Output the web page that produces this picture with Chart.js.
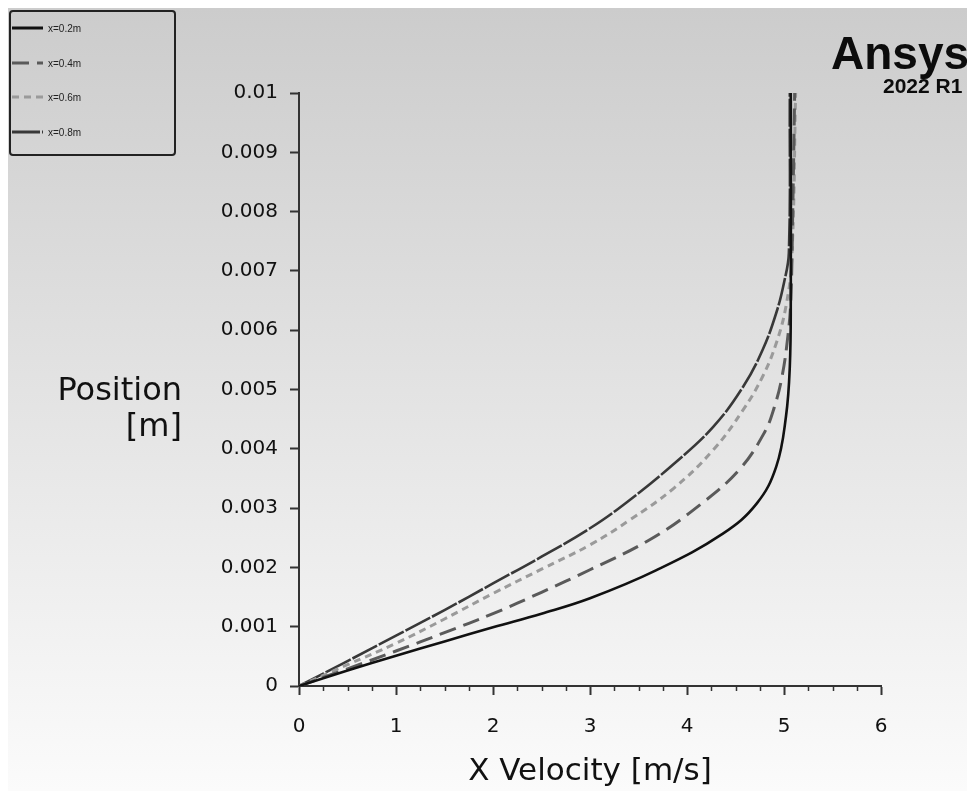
<!DOCTYPE html>
<html>
<head>
<meta charset="utf-8">
<script src="https://cdn.jsdelivr.net/npm/chart.js@4/dist/chart.umd.min.js"></script>
<style>
  html, body { margin: 0; padding: 0; background: #fff; }
  #wrap { width: 967px; height: 791px; }
</style>
</head>
<body>
<div id="wrap"><canvas id="chart" width="967" height="791"></canvas></div>
<script>
// — data (velocity m/s, position m) —
const seriesNames = ['x=0.2m', 'x=0.4m', 'x=0.6m', 'x=0.8m'];

const vel02 = [0, 0.5, 1, 1.5, 2, 2.5, 3, 3.68, 4.37, 4.72, 4.92, 5.02, 5.06, 5.07, 5.07];
const pos02 = [0, 0.00026, 0.00051, 0.00075, 0.00099, 0.00122, 0.00148, 0.00195, 0.00257, 0.00308, 0.0037, 0.00454, 0.00539, 0.00652, 0.01];

const vel04 = [0, 0.5, 1, 1.5, 2, 2.5, 3, 3.62, 4.13, 4.54, 4.8, 4.9, 4.98, 5.04, 5.07, 5.09, 5.11];
const pos04 = [0, 0.00029, 0.00059, 0.0009, 0.00122, 0.00158, 0.00196, 0.00247, 0.00305, 0.00365, 0.00428, 0.0047, 0.00522, 0.0059, 0.0065, 0.008, 0.01];

const vel06 = [0, 0.5, 1, 1.5, 2, 2.5, 3, 3.41, 3.86, 4.27, 4.58, 4.78, 4.92, 5.02, 5.08, 5.12];
const pos06 = [0, 0.00036, 0.00072, 0.00113, 0.00156, 0.00197, 0.00238, 0.0028, 0.00333, 0.00398, 0.00466, 0.00522, 0.00578, 0.0064, 0.0072, 0.01];

const vel08 = [0, 0.5, 1, 1.5, 2, 2.5, 3, 3.38, 3.86, 4.27, 4.58, 4.78, 4.92, 5.0, 5.05, 5.06];
const pos08 = [0, 0.00042, 0.00085, 0.00128, 0.00173, 0.00218, 0.00266, 0.0031, 0.00374, 0.00437, 0.00505, 0.00567, 0.00629, 0.0068, 0.0073, 0.01];

const xTicks = [0, 1, 2, 3, 4, 5, 6];
const yTicks = [0, 0.001, 0.002, 0.003, 0.004, 0.005, 0.006, 0.007, 0.008, 0.009, 0.01];

const pts = (xs, ys) => xs.map((x, i) => ({ x, y: ys[i] }));

// — styles per line —
const styles = [
  { color: '#111111', width: 2.6, dash: [] },
  { color: '#5a5a5a', width: 3,   dash: [17, 8] },
  { color: '#9a9a9a', width: 3,   dash: [7, 5] },
  { color: '#383838', width: 2.6, dash: [28, 2] }
];
const allData = [pts(vel02, pos02), pts(vel04, pos04), pts(vel06, pos06), pts(vel08, pos08)];

const FONT = '"DejaVu Sans", sans-serif';
const AXIS = '#333333';

// background: white frame + grey to white gradient
const bgPlugin = {
  id: 'bg',
  beforeDraw(chart) {
    const { ctx, width, height } = chart;
    ctx.save();
    ctx.fillStyle = '#ffffff';
    ctx.fillRect(0, 0, width, height);
    const g = ctx.createLinearGradient(0, 8, 0, height);
    g.addColorStop(0, '#cccccc');
    g.addColorStop(1, '#fbfbfb');
    ctx.fillStyle = g;
    ctx.fillRect(8, 8, width - 8, height - 8);
    ctx.restore();
  }
};

// minor ticks on x (every 0.25)
const minorTicks = {
  id: 'minorTicks',
  afterDraw(chart) {
    const { ctx, scales: { x, y } } = chart;
    const y0 = y.getPixelForValue(0);
    ctx.save();
    ctx.strokeStyle = AXIS;
    ctx.lineWidth = 1.5;
    for (let v = 0.25; v < 6; v += 0.25) {
      if (Math.abs(v - Math.round(v)) < 1e-6) continue;
      const px = Math.round(x.getPixelForValue(v)) + 0.5;
      ctx.beginPath();
      ctx.moveTo(px, y0);
      ctx.lineTo(px, y0 + 5);
      ctx.stroke();
    }
    ctx.restore();
  }
};

// titles, legend box, logo
const decor = {
  id: 'decor',
  afterDraw(chart) {
    const { ctx } = chart;
    ctx.save();
    ctx.fillStyle = '#111';

    // y title (not rotated)
    ctx.font = '32px ' + FONT;
    ctx.textAlign = 'right';
    ctx.textBaseline = 'alphabetic';
    ctx.fillText('Position', 182, 400);
    ctx.fillText('[m]', 182, 436);

    // x title
    ctx.font = '31px ' + FONT;
    ctx.textAlign = 'center';
    ctx.fillText('X Velocity [m/s]', 590, 780);

    // logo
    ctx.textAlign = 'left';
    ctx.fillStyle = '#0c0c0c';
    ctx.font = 'bold 46px "Liberation Sans", Arial, sans-serif';
    ctx.fillText('Ansys', 831, 69);
    ctx.font = 'bold 21px "Liberation Sans", Arial, sans-serif';
    ctx.fillText('2022 R1', 883, 93);

    // legend box
    ctx.strokeStyle = '#222';
    ctx.lineWidth = 2;
    ctx.beginPath();
    ctx.roundRect(10, 11, 165, 144, 3);
    ctx.stroke();

    const rows = [28, 63, 97, 132];
    chart.data.datasets.forEach((ds, i) => {
      const ry = rows[i];
      ctx.strokeStyle = ds.borderColor;
      ctx.lineWidth = 3;
      ctx.setLineDash(ds.borderDash || []);
      ctx.beginPath();
      ctx.moveTo(12, ry);
      ctx.lineTo(43, ry);
      ctx.stroke();
      ctx.setLineDash([]);
      ctx.fillStyle = '#222';
      ctx.font = '10px "Liberation Sans", Arial, sans-serif';
      ctx.textBaseline = 'middle';
      ctx.fillText(ds.label, 48, ry + 1);
    });
    ctx.restore();
  }
};

new Chart(document.getElementById('chart'), {
  type: 'scatter',
  data: {
    datasets: seriesNames.map((name, i) => ({
      label: name,
      data: allData[i],
      showLine: true,
      borderColor: styles[i].color,
      borderWidth: styles[i].width,
      borderDash: styles[i].dash,
      pointRadius: 0,
      pointHoverRadius: 0,
      tension: 0.4,
      fill: false
    }))
  },
  options: {
    responsive: false,
    animation: false,
    devicePixelRatio: 1,
    layout: { padding: { left: 0, top: 93, right: 86, bottom: 0 } },
    plugins: { legend: { display: false }, tooltip: { enabled: false } },
    scales: {
      x: {
        type: 'linear',
        min: 0, max: 6,
        afterFit: s => { s.height = 105; },
        afterBuildTicks: s => { s.ticks = xTicks.map(v => ({ value: v })); },
        ticks: {
          padding: 20,
          color: '#111',
          font: { family: 'DejaVu Sans', size: 20 },
          callback: v => String(v)
        },
        grid: { drawOnChartArea: false, tickLength: 9, tickColor: AXIS, tickWidth: 2 },
        border: { color: AXIS, width: 2 }
      },
      y: {
        type: 'linear',
        min: 0, max: 0.01,
        afterFit: s => { s.width = 299; },
        afterBuildTicks: s => { s.ticks = yTicks.map(v => ({ value: v })); },
        ticks: {
          padding: 12,
          color: '#111',
          font: { family: 'DejaVu Sans', size: 20 },
          callback: v => String(Number(v.toFixed(3)))
        },
        grid: { drawOnChartArea: false, tickLength: 9, tickColor: AXIS, tickWidth: 2 },
        border: { color: AXIS, width: 2 }
      }
    }
  },
  plugins: [bgPlugin, minorTicks, decor]
});
</script>
</body>
</html>
